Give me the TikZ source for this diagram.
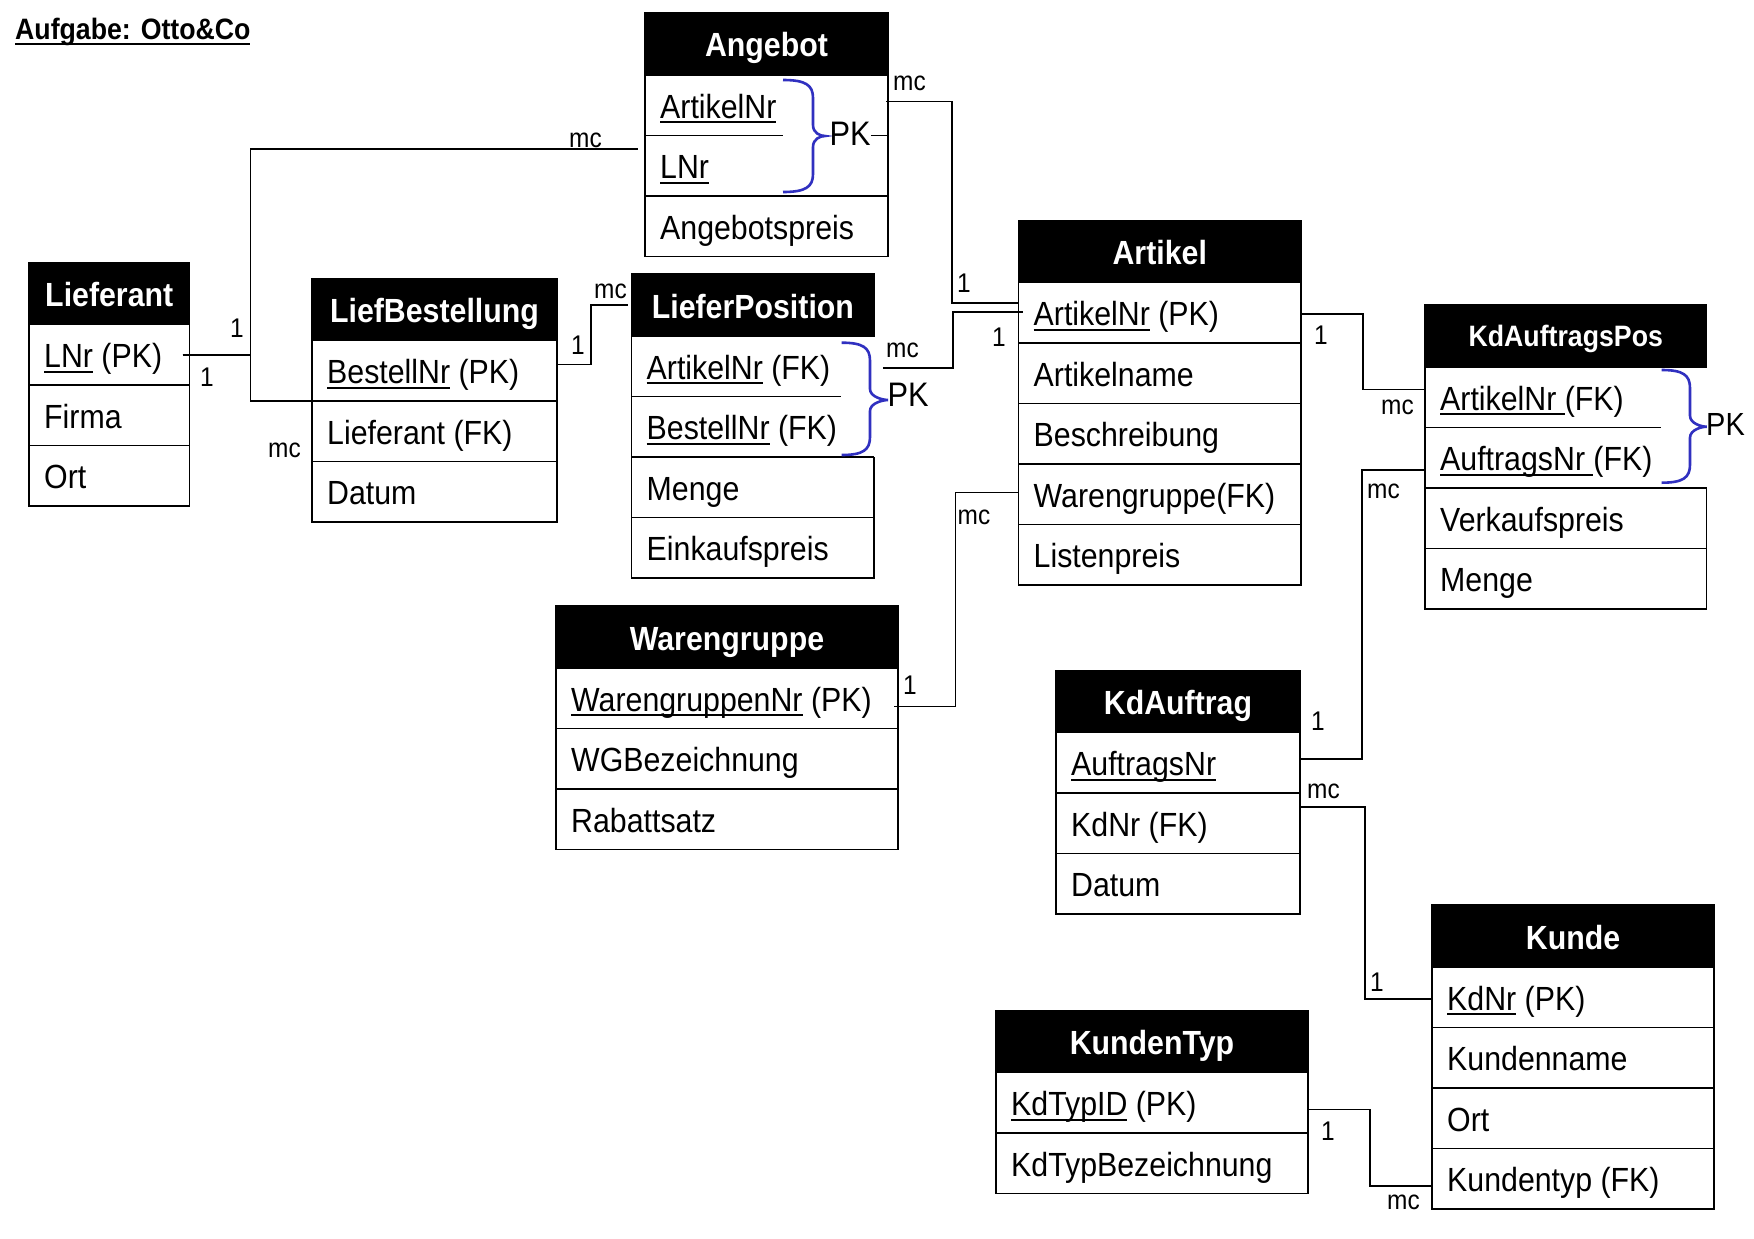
\documentclass[tikz,border=0pt]{standalone}
\usepackage{fontspec}
\setmainfont[FakeStretch=0.905]{Liberation Sans}
\usetikzlibrary{calc}
\newsavebox\ulbox
\newcommand\uline[1]{\sbox\ulbox{#1}\rlap{\rule[-5pt]{\wd\ulbox}{2pt}}\usebox\ulbox}
\definecolor{pkblue}{RGB}{48,48,192}
\newcommand\ulsp{\rule[-5pt]{0.25em}{2pt}}
\tikzset{
  frame/.style={draw=black, line width=1.8pt},
  conn/.style={draw=black, line width=1.5pt},
  hdrbox/.style={draw=black, fill=black, line width=1.8pt, minimum height=62pt, inner sep=0pt, outer sep=0pt, anchor=north west},
  rowbox/.style={minimum height=60.5pt, inner sep=0pt, outer sep=0pt, anchor=north west},
  hdrtext/.style={text=white, font=\fontsize{33.5}{40}\selectfont\bfseries, inner sep=0pt, anchor=base},
  rowtext/.style={font=\fontsize{33.5}{40}\selectfont, inner sep=0pt, anchor=base west},
  card/.style={font=\fontsize{27}{32}\selectfont, inner sep=0pt, anchor=base west},
  pklabel/.style={font=\fontsize{34}{40}\selectfont, inner sep=0pt, anchor=base west},
  pkbrace/.style={draw=pkblue, line width=2.6pt},
}
\newcommand\entity[7]{%
  \pgfmathsetmacro\ew{#3-#2}
  \node[hdrbox, minimum width={\ew pt}] (#1-0) at (#2,#4) {};
  \node[hdrtext] (#1-t) at ($(#1-0.north)+(0,44)$) {#5};
  \foreach \t [count=\i] in {#6} {
    \pgfmathsetmacro\yy{#4+62+(\i-1)*60.5}
    \node[rowbox, minimum width={\ew pt}] (#1-\i) at (#2,\yy) {};
    \node[rowtext] (#1-t\i) at ($(#1-\i.north west)+(15,43)$) {\t};
    \ifnum\i>1 \ifnum\i=#7 \else \draw[frame] (#1-\i.north west) -- (#1-\i.north east);\fi\fi
  }
}
\newcommand\pkbr[6]{%
  \draw[pkbrace] (#1,#4) .. controls ({#1+0.75*(#2-#1)},#4) and (#2,{#4+5}) .. (#2,{#4+18})
    -- (#2,{#5-11}) .. controls (#2,{#5-3}) and ({#3-5},#5) .. (#3,#5)
    .. controls ({#3-5},#5) and (#2,{#5+3}) .. (#2,{#5+11})
    -- (#2,{#6-18}) .. controls (#2,{#6-5}) and ({#1+0.75*(#2-#1)},#6) .. (#1,#6);
}
\begin{document}
\begin{tikzpicture}[x=1pt,y=-1pt]
\useasboundingbox (0,0) rectangle (1754,1239);
\fill[white] (0,0) rectangle (1754,1239);

\node[anchor=base west, inner sep=0pt, font=\fontsize{29.5}{35}\selectfont\bfseries] (title) at (15,40) {\uline{Aufgabe: Otto\&Co}};

% entities
\entity{ang}{645}{888}{13}{Angebot}{{\uline{ArtikelNr}},{\uline{LNr}},Angebotspreis}{2}
\entity{lief}{29}{189.5}{262.5}{Lieferant}{{\uline{LNr} (PK)},Firma,Ort}{0}
\entity{lb}{312}{557}{278.5}{LiefBestellung}{{\uline{BestellNr} (PK)},Lieferant (FK),Datum}{0}
\entity{lp}{631.5}{874.3}{274}{LieferPosition}{{\uline{ArtikelNr} (FK)},{\uline{BestellNr} (FK)},Menge,Einkaufspreis}{2}
\entity{art}{1018.5}{1301}{220.5}{Artikel}{{\uline{ArtikelNr} (PK)},Artikelname,Beschreibung,Warengruppe(FK),Listenpreis}{0}
\entity{kap}{1425}{1706.5}{305}{\raisebox{3pt}{\fontsize{29.5}{35}\selectfont KdAuftragsPos}}{{\uline{ArtikelNr}\ulsp(FK)},{\uline{AuftragsNr}\ulsp(FK)},Verkaufspreis,Menge}{2}
\entity{wg}{556}{898}{606}{Warengruppe}{{\uline{WarengruppenNr} (PK)},WGBezeichnung,Rabattsatz}{0}
\entity{ka}{1056}{1300}{670.5}{KdAuftrag}{\uline{AuftragsNr},KdNr (FK),Datum}{0}
\entity{ku}{1432}{1714}{905}{Kunde}{{\uline{KdNr} (PK)},Kundenname,Ort,Kundentyp (FK)}{0}
\entity{kt}{996}{1308}{1010.5}{KundenTyp}{{\uline{KdTypID} (PK)},KdTypBezeichnung}{0}

% frames
\draw[frame] (ang-0.north west) rectangle (ang-3.south east);
\draw[frame] (ang-2.north west) -- ++(138,0);
\draw[frame] (lief-0.north west) rectangle (lief-3.south east);
\draw[frame] (lb-0.north west) rectangle (lb-3.south east);
\draw[frame] (lp-1.north west) |- (lp-4.south east) -- (lp-3.north east);
\draw[frame] (lp-2.north west) -- ++(209,0);
\draw[frame] (art-0.north west) rectangle (art-5.south east);
\draw[frame] (kap-1.north west) |- (kap-4.south east) -- (kap-3.north east);
\draw[frame] (kap-2.north west) -- ++(236,0);
\draw[frame] (wg-0.north west) rectangle (wg-3.south east);
\draw[frame] (ka-0.north west) rectangle (ka-3.south east);
\draw[frame] (ku-0.north west) rectangle (ku-4.south east);
\draw[frame] (kt-0.north west) rectangle (kt-2.south east);

% primary key braces
\pkbr{783}{813}{825}{80}{136}{192}
\pkbr{841.7}{870}{888}{342.7}{400}{455}
\pkbr{1661.7}{1690}{1706.7}{370}{426.7}{482.7}
\node[pklabel] (pk1) at (829.5,145) {PK};
\node[pklabel] (pk2) at (887.5,406.7) {PK};
\node[pklabel, font=\fontsize{32}{38}\selectfont] (pk3) at (1706,435) {PK};
\draw[conn] (pk1.east |- ang-1.south east) -- (ang-1.south east);

% connectors
\draw[conn] ([xshift=-7pt]lief-1.east) -- ++(68,0) |- ([xshift=-7pt,yshift=17pt]ang-2.west);
\draw[conn] ([xshift=-7pt]lief-1.east) -- ++(68,0) |- (lb-2.north west);
\draw[conn] ([yshift=6.5pt]lb-1.east) -- ++(34,0) |- ([xshift=-4pt]lp-0.west);
\draw[conn] ([xshift=-2pt,yshift=4pt]ang-1.east) -- ++(66,0) |- ([yshift=10pt]art-1.west);
\draw[conn] ([xshift=8.5pt,yshift=-1.5pt]lp-1.east) -- ++(70,0) |- ([xshift=4pt,yshift=1pt]art-1.west);
\draw[conn] ([yshift=-1pt]art-1.east) -- ++(62,0) |- ([yshift=8pt]kap-1.west);
\draw[conn] ([yshift=2pt]art-4.west) -- ++(-63,0) |- ([xshift=-4.5pt,yshift=-8pt]wg-1.east);
\draw[conn] ([yshift=4pt]ka-1.east) -- ++(62,0) |- ([yshift=-12pt]kap-2.west);
\draw[conn] ([yshift=16.5pt]ka-2.east) -- ++(65,0) |- ([yshift=-1.5pt]ku-1.west);
\draw[conn] ([yshift=-6.5pt]kt-1.east) -- ++(62,0) |- ([yshift=-7pt]ku-4.west);

% cardinalities
\node[card] (c1) at (569,147) {mc};
\node[card] (c2) at (230,337) {1};
\node[card] (c3) at (200,386) {1};
\node[card] (c4) at (268,457) {mc};
\node[card] (c5) at (571,354) {1};
\node[card] (c6) at (594,298) {mc};
\node[card] (c7) at (893,90) {mc};
\node[card] (c8) at (957,292.7) {1};
\node[card] (c9) at (886,357) {mc};
\node[card] (c10) at (992,346) {1};
\node[card] (c11) at (1314,344) {1};
\node[card] (c12) at (1381,414) {mc};
\node[card] (c13) at (1367,498) {mc};
\node[card] (c14) at (957.5,524) {mc};
\node[card] (c15) at (903,694) {1};
\node[card] (c16) at (1311,730) {1};
\node[card] (c17) at (1307,798) {mc};
\node[card] (c18) at (1370,991) {1};
\node[card] (c19) at (1321,1140) {1};
\node[card] (c20) at (1387,1209) {mc};
\end{tikzpicture}
\end{document}
